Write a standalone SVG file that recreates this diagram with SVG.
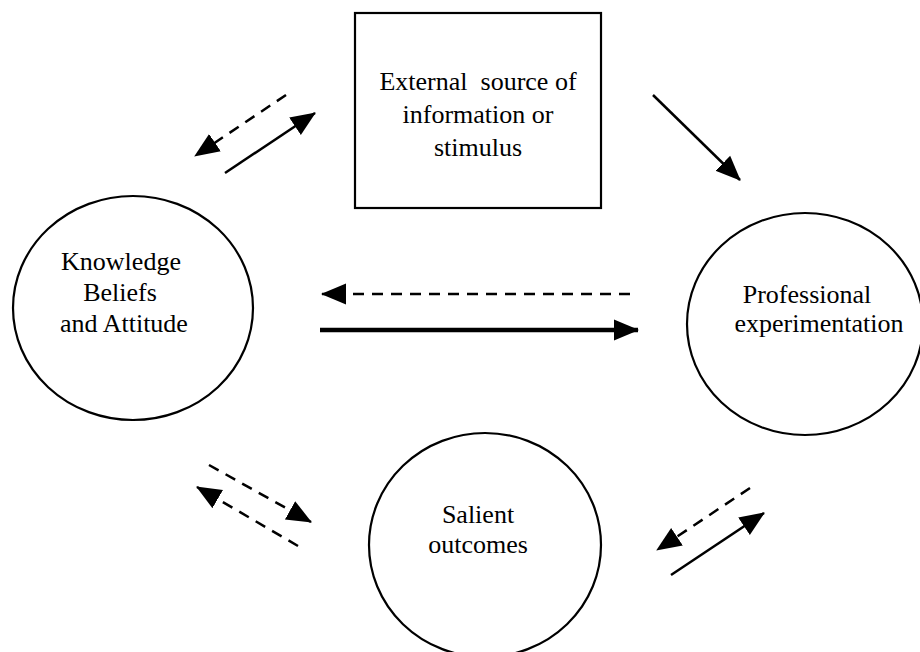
<svg xmlns="http://www.w3.org/2000/svg" width="920" height="652" viewBox="0 0 920 652">
<style>
.node{fill:#fff;stroke:#000;stroke-width:2.2}
.lbl{font-family:"Liberation Serif","Times New Roman",serif;font-size:26px;fill:#000;text-anchor:middle}
.c{fill:none;stroke:#000;stroke-width:2.5}
.d{stroke-dasharray:11 8}
.thick{stroke-width:4.5}
</style>
<defs>
<marker id="ah" markerUnits="userSpaceOnUse" markerWidth="26" markerHeight="24" refX="24" refY="12" orient="auto">
<path d="M0,1.5 L25,12 L0,22.5 Z" fill="#000"/>
</marker>
</defs>
<rect width="920" height="652" fill="#fff"/>
<g id="external">
<rect class="node" x="355" y="13" width="246" height="195"/>
<text class="lbl" x="478" y="90" xml:space="preserve">External  source of</text>
<text class="lbl" x="478" y="123">information or</text>
<text class="lbl" x="478" y="156">stimulus</text>
</g>
<g id="knowledge">
<ellipse class="node" cx="133" cy="308" rx="120" ry="112"/>
<text class="lbl" x="121" y="270">Knowledge</text>
<text class="lbl" x="120" y="301">Beliefs</text>
<text class="lbl" x="124" y="332">and Attitude</text>
</g>
<g id="professional">
<ellipse class="node" cx="805" cy="324" rx="118" ry="111"/>
<text class="lbl" x="807" y="303">Professional</text>
<text class="lbl" x="819" y="332">experimentation</text>
</g>
<g id="salient">
<ellipse class="node" cx="485" cy="545" rx="116" ry="112"/>
<text class="lbl" x="478" y="523">Salient</text>
<text class="lbl" x="478" y="553">outcomes</text>
</g>
<g id="connectors">
<line class="c d" x1="286" y1="95" x2="195" y2="156" marker-end="url(#ah)"/>
<line class="c" x1="225" y1="173" x2="315" y2="113" marker-end="url(#ah)"/>
<line class="c" x1="653" y1="95" x2="740" y2="180" marker-end="url(#ah)"/>
<line class="c d" x1="630" y1="294" x2="322" y2="294" marker-end="url(#ah)"/>
<line class="c thick" x1="320" y1="330" x2="638" y2="330" marker-end="url(#ah)"/>
<line class="c d" x1="209" y1="465" x2="311" y2="522" marker-end="url(#ah)"/>
<line class="c d" x1="298" y1="546" x2="197" y2="487" marker-end="url(#ah)"/>
<line class="c d" x1="750" y1="488" x2="657" y2="550" marker-end="url(#ah)"/>
<line class="c" x1="671" y1="575" x2="764" y2="513" marker-end="url(#ah)"/>
</g>
</svg>
